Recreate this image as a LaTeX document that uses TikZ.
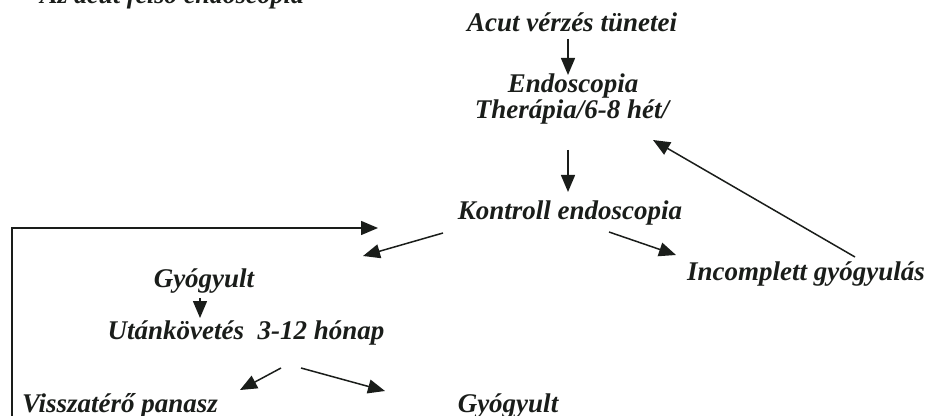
\documentclass[tikz,border=0pt]{standalone}
\usepackage{fontspec}
\setmainfont{Liberation Serif}
\usetikzlibrary{arrows.meta}
\definecolor{ink}{HTML}{1A1D1A}
\tikzset{
  lbl/.style={anchor=base, inner sep=0pt, text=ink, font=\fontsize{27}{30}\selectfont\bfseries\itshape},
  arr/.style={draw=ink, line width=1.5pt, -{Triangle[length=17pt,width=14pt]}},
  ln/.style={draw=ink, line width=1.5pt}
}
\begin{document}
\begin{tikzpicture}[x=1pt,y=1pt]
\useasboundingbox (0,0) rectangle (933,415);
\clip (0,0) rectangle (933,415);
% texts (y = 415 - image y)
\node[lbl, font=\fontsize{26}{30}\selectfont\bfseries\itshape] (title) at (172,411) {Az acut felső endoscopia};
\node[lbl] (acut) at (572,383) {Acut vérzés tünetei};
\node[lbl] (endo) at (573,322) {Endoscopia};
\node[lbl] (ther) at (572,296) {Therápia/6-8 hét/};
\node[lbl] (kontr) at (570,195) {Kontroll endoscopia};
\node[lbl] (incomp) at (806,135) {Incomplett gyógyulás};
\node[lbl] (gy1) at (204,128) {Gyógyult};
\node[lbl] (utan) at (246,76) {Utánkövetés\ \ 3-12 hónap};
\node[lbl] (vissza) at (120,3) {Visszatérő panasz};
\node[lbl] (gy2) at (508,3) {Gyógyult};
% connector end points
\coordinate (a1s) at (568,376);
\coordinate (a1e) at (568,340);
\coordinate (a2s) at (568,265);
\coordinate (a2e) at (568,223);
\coordinate (k1s) at (443,182);
\coordinate (k1e) at (363,159);
\coordinate (k2s) at (609,183);
\coordinate (k2e) at (676,160);
\coordinate (ins) at (855,158);
\coordinate (ine) at (653,275);
\coordinate (g1s) at (200,117);
\coordinate (g1e) at (200,97);
\coordinate (u1s) at (281,47);
\coordinate (u1e) at (240,25);
\coordinate (u2s) at (301,47);
\coordinate (u2e) at (385,24);
\coordinate (fb0) at (12,-5);
\coordinate (fb1) at (12,187);
\coordinate (fb2) at (378,187);
% connectors
\draw[arr] (a1s) -- (a1e);
\draw[arr] (a2s) -- (a2e);
\draw[arr] (k1s) -- (k1e);
\draw[arr] (k2s) -- (k2e);
\draw[arr] (ins) -- (ine);
\draw[arr] (g1s) -- (g1e);
\draw[arr] (u1s) -- (u1e);
\draw[arr] (u2s) -- (u2e);
\draw[arr] (fb0) -- (fb1) -- (fb2);
\end{tikzpicture}
\end{document}
